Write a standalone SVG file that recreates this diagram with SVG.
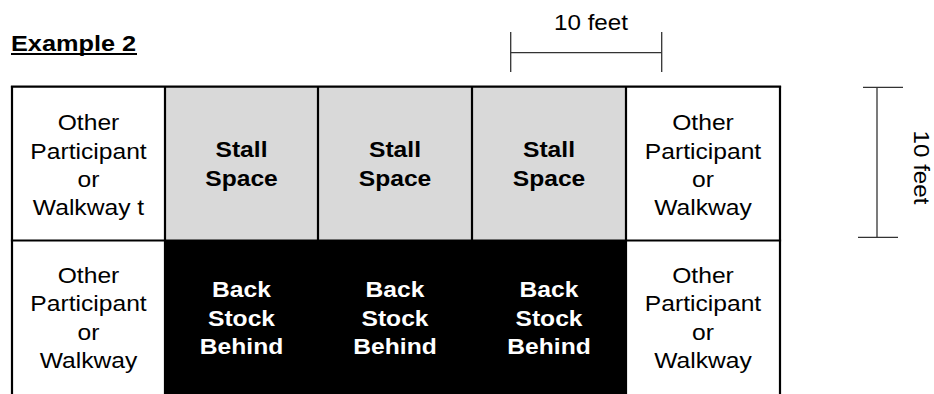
<svg xmlns="http://www.w3.org/2000/svg" width="934" height="394" viewBox="0 0 934 394">
<style>
text{font-family:"Liberation Sans",Arial,sans-serif;font-size:22px;fill:#000}
.b{font-weight:bold}
.w{fill:#fff}
.grid{stroke:#000;stroke-width:2.2;fill:none}
.dim{stroke:#333;stroke-width:1.3;fill:none}
.gray{fill:#d9d9d9}
.blk{fill:#000}
</style>
<rect width="934" height="394" fill="#fff"/>
<g id="title">
<text class="b" transform="matrix(1.15 0 0 1 11 50.5)">Example 2</text>
<line x1="11" y1="54" x2="137" y2="54" stroke="#000" stroke-width="2"/>
</g>
<g id="cell-r1c1">
<rect x="12" y="87" width="153" height="153" fill="#fff"/>
<text text-anchor="middle" transform="matrix(1.12 0 0 1 88.5 0)"><tspan x="0" y="130.5">Other</tspan><tspan x="0" y="158.8">Participant</tspan><tspan x="0" y="187">or</tspan><tspan x="0" y="215.3">Walkway t</tspan></text>
</g>
<g id="cell-r1c2">
<rect class="gray" x="165" y="87" width="153" height="153"/>
<text class="b" text-anchor="middle" transform="matrix(1.12 0 0 1 241.5 0)"><tspan x="0" y="157.5">Stall</tspan><tspan x="0" y="186">Space</tspan></text>
</g>
<g id="cell-r1c3">
<rect class="gray" x="318" y="87" width="154" height="153"/>
<text class="b" text-anchor="middle" transform="matrix(1.12 0 0 1 395 0)"><tspan x="0" y="157.5">Stall</tspan><tspan x="0" y="186">Space</tspan></text>
</g>
<g id="cell-r1c4">
<rect class="gray" x="472" y="87" width="154" height="153"/>
<text class="b" text-anchor="middle" transform="matrix(1.12 0 0 1 549 0)"><tspan x="0" y="157.5">Stall</tspan><tspan x="0" y="186">Space</tspan></text>
</g>
<g id="cell-r1c5">
<rect x="626" y="87" width="154" height="153" fill="#fff"/>
<text text-anchor="middle" transform="matrix(1.12 0 0 1 703 0)"><tspan x="0" y="130.5">Other</tspan><tspan x="0" y="158.8">Participant</tspan><tspan x="0" y="187">or</tspan><tspan x="0" y="215.3">Walkway</tspan></text>
</g>
<g id="cell-r2c1">
<rect x="12" y="240" width="153" height="154" fill="#fff"/>
<text text-anchor="middle" transform="matrix(1.12 0 0 1 88.5 0)"><tspan x="0" y="283">Other</tspan><tspan x="0" y="311.5">Participant</tspan><tspan x="0" y="340">or</tspan><tspan x="0" y="368.5">Walkway</tspan></text>
</g>
<g id="cell-r2c2">
<rect class="blk" x="165" y="240" width="153" height="154"/>
<text class="b w" text-anchor="middle" transform="matrix(1.12 0 0 1 241.5 0)"><tspan x="0" y="297.5">Back</tspan><tspan x="0" y="326">Stock</tspan><tspan x="0" y="354.5">Behind</tspan></text>
</g>
<g id="cell-r2c3">
<rect class="blk" x="318" y="240" width="154" height="154"/>
<text class="b w" text-anchor="middle" transform="matrix(1.12 0 0 1 395 0)"><tspan x="0" y="297.5">Back</tspan><tspan x="0" y="326">Stock</tspan><tspan x="0" y="354.5">Behind</tspan></text>
</g>
<g id="cell-r2c4">
<rect class="blk" x="472" y="240" width="154" height="154"/>
<text class="b w" text-anchor="middle" transform="matrix(1.12 0 0 1 549 0)"><tspan x="0" y="297.5">Back</tspan><tspan x="0" y="326">Stock</tspan><tspan x="0" y="354.5">Behind</tspan></text>
</g>
<g id="cell-r2c5">
<rect x="626" y="240" width="154" height="154" fill="#fff"/>
<text text-anchor="middle" transform="matrix(1.12 0 0 1 703 0)"><tspan x="0" y="283">Other</tspan><tspan x="0" y="311.5">Participant</tspan><tspan x="0" y="340">or</tspan><tspan x="0" y="368.5">Walkway</tspan></text>
</g>
<g id="grid-lines" class="grid">
<line x1="10.9" y1="86.7" x2="781.1" y2="86.7"/>
<line x1="10.9" y1="240.5" x2="781.1" y2="240.5"/>
<line x1="12" y1="86" x2="12" y2="394"/>
<line x1="165" y1="86" x2="165" y2="394"/>
<line x1="318" y1="86" x2="318" y2="394"/>
<line x1="472" y1="86" x2="472" y2="394"/>
<line x1="626" y1="86" x2="626" y2="394"/>
<line x1="780" y1="86" x2="780" y2="394"/>
</g>
<g id="connectors">
<g id="scale-horizontal" class="dim">
<line x1="510.7" y1="32" x2="510.7" y2="72"/>
<line x1="661.7" y1="32" x2="661.7" y2="72"/>
<line x1="510.7" y1="52.7" x2="661.7" y2="52.7"/>
</g>
<g id="scale-vertical" class="dim">
<line x1="877" y1="87.3" x2="877" y2="237.3"/>
<line x1="863" y1="87.3" x2="903" y2="87.3"/>
<line x1="858" y1="237.3" x2="898" y2="237.3"/>
</g>
</g>
<g id="label-horizontal">
<text text-anchor="middle" transform="matrix(1.1 0 0 1 591 29.5)">10 feet</text>
</g>
<g id="label-vertical">
<text text-anchor="middle" transform="matrix(0 1.1 -1 0 914 167.5)">10 feet</text>
</g>
</svg>
